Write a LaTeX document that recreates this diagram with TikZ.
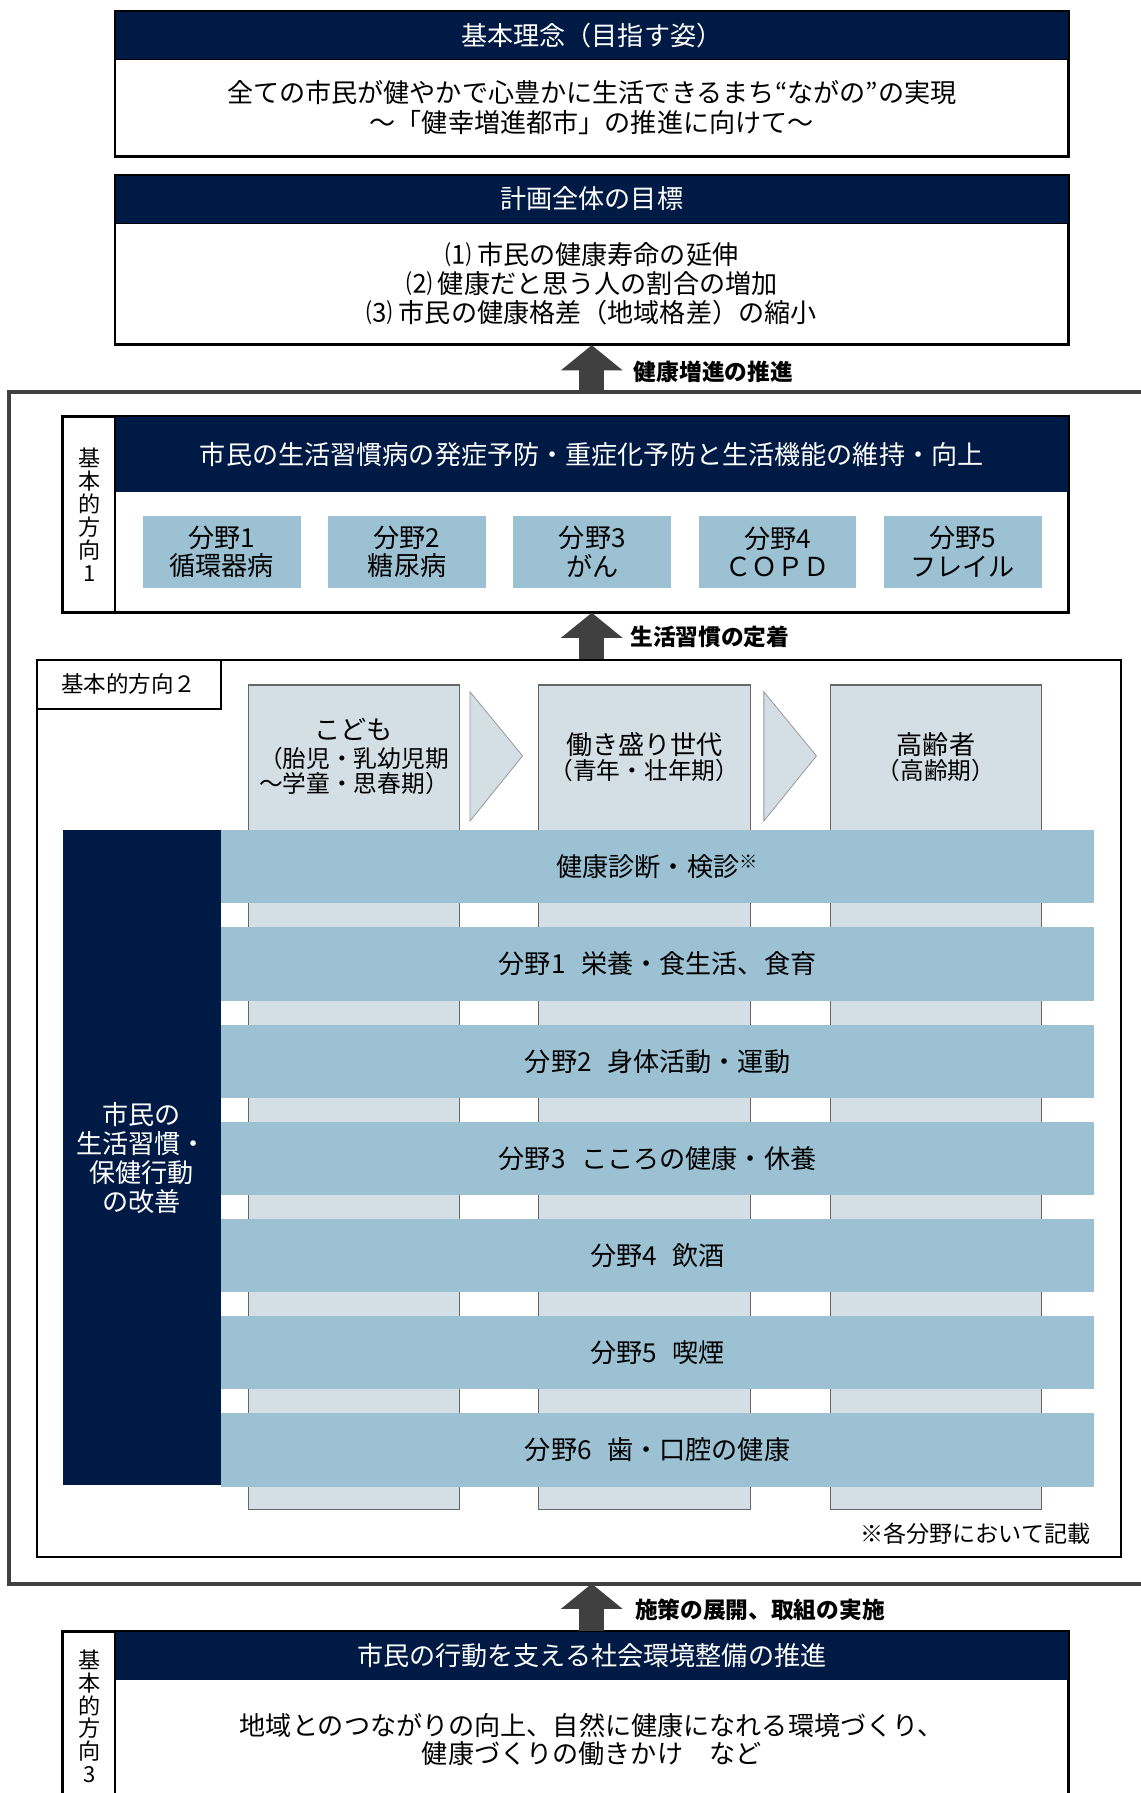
\documentclass[tikz,border=0pt]{standalone}
\usepackage{fontspec}
\setmainfont{Noto Sans CJK JP}
\usetikzlibrary{positioning}
\usetikzlibrary{arrows.meta}

\definecolor{navy}{HTML}{001A46}
\definecolor{bandblue}{HTML}{9BC1D3}
\definecolor{colgray}{HTML}{D4DEE5}
\definecolor{arrowgray}{HTML}{404040}

\tikzset{
	sized/.style 2 args={minimum width=#1*0.02cm, minimum height=#2*0.02cm},
	hdr/.style={fill=navy, text=white, inner sep=0pt, align=center, font=\fontsize{13}{14.4}\selectfont},
	bodybox/.style={draw=black, line width=1pt, fill=white, inner sep=0pt, align=center, font=\fontsize{13}{14.6}\selectfont},
	fieldbox/.style={fill=bandblue, inner sep=0pt, align=center, font=\fontsize{13}{14.2}\selectfont},
	band/.style={fill=bandblue, inner sep=0pt, font=\fontsize{13}{14.2}\selectfont},
	stage/.style={fill=colgray, draw=black!60, line width=0.6pt},
	vlabel/.style={align=center, inner sep=0pt, font=\fontsize{11}{11.4}\selectfont},
	uparrow/.style={draw=arrowgray, line width=0.44cm, -{Triangle[width=1.08cm, length=0.44cm, line width=0pt]}},
	uplabel/.style={anchor=west, inner sep=0pt, font=\fontsize{11.3}{13}\selectfont\bfseries},
	outerframe/.style={draw=arrowgray, line width=1.8pt},
}

\begin{document}
\begin{tikzpicture}[x=0.02cm, y=-0.02cm]
	\useasboundingbox (0,0) rectangle (997,1568);

	\node[bodybox, sized={833}{84}] (ideaBody) at (517.5,94) {全ての市民が健やかで心豊かに生活できるまち“ながの”の実現\\～「健幸増進都市」の推進に向けて～};
	\node[hdr, sized={833}{42}] (ideaHead) at (517.5,31) {基本理念（目指す姿）};
	\draw[line width=1pt] (ideaHead.north west) rectangle (ideaBody.south east);

	\node[bodybox, sized={833}{106}] (goalBody) at (517.5,248) {⑴ 市民の健康寿命の延伸\\⑵ 健康だと思う人の割合の増加\\⑶ 市民の健康格差（地域格差）の縮小};
	\node[hdr, sized={833}{42}] (goalHead) at (517.5,174) {計画全体の目標};
	\draw[line width=1pt] (goalHead.north west) rectangle (goalBody.south east);

	\draw[outerframe] (1000,343) -- (8,343) -- (8,1385) -- (1000,1385);
	\coordinate (frameTop) at (517.5,343);
	\coordinate (frameBot) at (517.5,1385);
	\draw[uparrow] (frameTop) -- (goalBody.south);
	\node[uplabel] (promoteLabel) at (554,325) {健康増進の推進};

	\node[draw=black, line width=1pt, fill=white, sized={879}{170}] (dir1Box) at (494.5,450) {};
	\node[hdr, sized={833}{65}] (dir1Head) at (517.5,397.5) {市民の生活習慣病の発症予防・重症化予防と生活機能の維持・向上};
	\draw[line width=1pt] (dir1Box.north west) rectangle (dir1Box.south east);
	\draw[line width=1pt] (101,365) -- (101,535);
	\node[vlabel] (dir1Label) at (78,450) {基\\本\\的\\方\\向\\1};
	\foreach \i/\t in {1/循環器病, 2/糖尿病, 3/がん, 4/ＣＯＰＤ, 5/フレイル}
		\node[fieldbox, sized={138}{63}] (field\i) at ({194+162*(\i-1)},482.5) {分野\i\\\t};

	\node[draw=black, line width=1pt, fill=white, sized={948}{785}] (dir2Box) at (506,969.5) {};
	\draw[uparrow] (dir2Box.north -| dir1Head) -- (dir1Box.south -| dir1Head);
	\node[uplabel] (habitLabel) at (551,557) {生活習慣の定着};
	\node[draw=black, line width=1pt, fill=white, sized={161}{43}, inner sep=0pt, font=\fontsize{11.2}{13}\selectfont] (dir2Tab) at (112.5,598.5) {基本的方向２};

	\foreach \x in {217,471,726}
		\draw[stage] (\x,599) rectangle ++(185,721);
	\foreach \x in {411,668}
		\draw[stage, draw=black!40, line width=0.4pt] (\x,605) -- ++(46,56) -- ++(-46,57) -- cycle;

	\node[font=\fontsize{13}{14}\selectfont, inner sep=0pt] (kidsTitle) at (309.5,638) {こども};
	\node[font=\fontsize{11.8}{12.5}\selectfont, align=center, inner sep=0pt] (kidsSub) at (309.5,674) {（胎児・乳幼児期\\～学童・思春期）};
	\node[font=\fontsize{13}{14}\selectfont, inner sep=0pt] (workTitle) at (563.5,651) {働き盛り世代};
	\node[font=\fontsize{11.8}{12.5}\selectfont, inner sep=0pt] (workSub) at (563.5,674) {（青年・壮年期）};
	\node[font=\fontsize{13}{14}\selectfont, inner sep=0pt] (elderTitle) at (818.5,651) {高齢者};
	\node[font=\fontsize{11.8}{12.5}\selectfont, inner sep=0pt] (elderSub) at (818.5,674) {（高齢期）};

	\node[hdr, sized={138}{573}] (lifeBlock) at (124,1012.5) {市民の\\生活習慣・\\保健行動\\の改善};
	\node[band, sized={764}{64}] (band0) at (575,758) {健康診断・検診\textsuperscript{※}};
	\foreach \i/\t in {1/栄養・食生活、食育, 2/身体活動・運動, 3/こころの健康・休養, 4/飲酒, 5/喫煙, 6/歯・口腔の健康}
		\node[band, sized={764}{64}] (band\i) at (575,{758+85*\i}) {分野\i\hspace{0.6em}\t};

	\node[anchor=east, inner sep=0pt, font=\fontsize{11.5}{13}\selectfont] (footNote) at (954,1341) {※各分野において記載};

	\node[draw=black, line width=1pt, fill=white, sized={879}{160}] (dir3Box) at (494.5,1507) {};
	\node[hdr, sized={833}{42}] (dir3Head) at (517.5,1448) {市民の行動を支える社会環境整備の推進};
	\draw[line width=1pt] (dir3Box.north west) rectangle (dir3Box.south east);
	\draw[line width=1pt] (101,1427) -- (101,1587);
	\node[vlabel] (dir3Label) at (78,1501) {基\\本\\的\\方\\向\\3};
	\node[align=center, inner sep=0pt, font=\fontsize{13}{13.7}\selectfont] (dir3Text) at (517.5,1521) {地域とのつながりの向上、自然に健康になれる環境づくり、\\健康づくりの働きかけ　など};
	\draw[uparrow] (dir3Head.north) -- (frameBot);
	\node[uplabel] (measureLabel) at (555,1408) {施策の展開、取組の実施};
\end{tikzpicture}
\end{document}
